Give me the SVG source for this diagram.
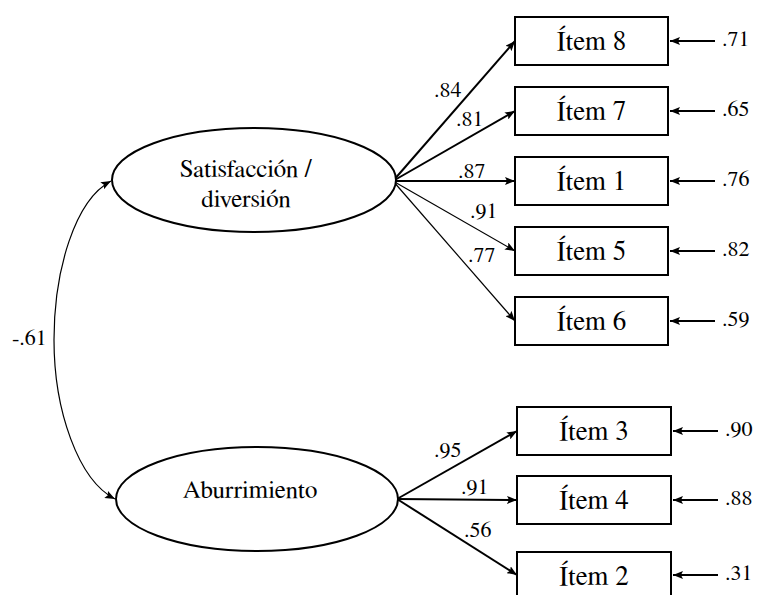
<svg xmlns="http://www.w3.org/2000/svg" width="760" height="595" viewBox="0 0 760 595">
<style>
  text { font-family: "Nimbus Roman", "FreeSerif", "Times", serif; fill: #000; }
  .lat { font-size: 25px; text-anchor: middle; }
  .item { font-size: 27px; text-anchor: middle; }
  .val { font-size: 22px; }
  .node { fill: #fff; stroke: #000; stroke-width: 2; }
  .thick { fill: none; stroke: #000; stroke-width: 2; }
  .thin { fill: none; stroke: #000; stroke-width: 1.2; }
</style>
<defs>
  <marker id="ah" viewBox="0 0 10 8" refX="10" refY="4" markerWidth="10" markerHeight="8" markerUnits="userSpaceOnUse" orient="auto-start-reverse">
    <path d="M0,0 L10,4 L0,8 L2,4 z" fill="#000"/>
  </marker>
</defs>
<rect width="760" height="595" fill="#fff"/>

<g id="connectors">
  <path class="thin" d="M111,181 C75,200 54,270 54,340 C54,410 78,480 115,499" marker-start="url(#ah)" marker-end="url(#ah)"/>
  <line class="thick" x1="393" y1="181" x2="515" y2="41" marker-end="url(#ah)"/>
  <line class="thick" x1="393" y1="181" x2="515" y2="111" marker-end="url(#ah)"/>
  <line class="thick" x1="393" y1="181" x2="515" y2="181" marker-end="url(#ah)"/>
  <line class="thin" x1="393" y1="181" x2="515" y2="251" marker-end="url(#ah)"/>
  <line class="thin" x1="393" y1="181" x2="515" y2="321" marker-end="url(#ah)"/>
  <line class="thick" x1="397" y1="499" x2="517" y2="431" marker-end="url(#ah)"/>
  <line class="thick" x1="397" y1="499" x2="517" y2="500" marker-end="url(#ah)"/>
  <line class="thick" x1="397" y1="499" x2="517" y2="575" marker-end="url(#ah)"/>
  <line class="thick" x1="715" y1="41" x2="670" y2="41" marker-end="url(#ah)"/>
  <line class="thick" x1="715" y1="111" x2="670" y2="111" marker-end="url(#ah)"/>
  <line class="thick" x1="715" y1="181" x2="670" y2="181" marker-end="url(#ah)"/>
  <line class="thick" x1="715" y1="251" x2="670" y2="251" marker-end="url(#ah)"/>
  <line class="thick" x1="715" y1="321" x2="670" y2="321" marker-end="url(#ah)"/>
  <line class="thick" x1="718" y1="431" x2="673" y2="431" marker-end="url(#ah)"/>
  <line class="thick" x1="718" y1="500" x2="673" y2="500" marker-end="url(#ah)"/>
  <line class="thick" x1="718" y1="575" x2="673" y2="575" marker-end="url(#ah)"/>
  <text class="val" x="12" y="345">-.61</text>
  <text class="val" x="434" y="97">.84</text>
  <text class="val" x="456" y="126">.81</text>
  <text class="val" x="458" y="178">.87</text>
  <text class="val" x="470" y="218">.91</text>
  <text class="val" x="468" y="262">.77</text>
  <text class="val" x="434" y="457">.95</text>
  <text class="val" x="461" y="494">.91</text>
  <text class="val" x="464" y="537">.56</text>
</g>

<g id="satisfaccion">
  <ellipse class="node" cx="254" cy="180" rx="142" ry="52"/>
  <text class="lat" x="246" y="177">Satisfacción /</text>
  <text class="lat" x="246" y="207">diversión</text>
</g>
<g id="aburrimiento">
  <ellipse class="node" cx="257" cy="499" rx="141" ry="52"/>
  <text class="lat" x="250" y="498">Aburrimiento</text>
</g>

<g id="item8"><rect class="node" x="515" y="17" width="153" height="48"/><text class="item" x="591.5" y="50">Ítem 8</text><text class="val" x="722" y="46">.71</text></g>
<g id="item7"><rect class="node" x="515" y="87" width="153" height="48"/><text class="item" x="591.5" y="120">Ítem 7</text><text class="val" x="722" y="116">.65</text></g>
<g id="item1"><rect class="node" x="515" y="157" width="153" height="48"/><text class="item" x="591.5" y="190">Ítem 1</text><text class="val" x="722" y="186">.76</text></g>
<g id="item5"><rect class="node" x="515" y="227" width="153" height="48"/><text class="item" x="591.5" y="260">Ítem 5</text><text class="val" x="722" y="256">.82</text></g>
<g id="item6"><rect class="node" x="515" y="297" width="153" height="48"/><text class="item" x="591.5" y="330">Ítem 6</text><text class="val" x="722" y="326">.59</text></g>
<g id="item3"><rect class="node" x="517" y="407" width="154" height="48"/><text class="item" x="594" y="440">Ítem 3</text><text class="val" x="725" y="436">.90</text></g>
<g id="item4"><rect class="node" x="517" y="476" width="154" height="48"/><text class="item" x="594" y="509">Ítem 4</text><text class="val" x="725" y="505">.88</text></g>
<g id="item2"><rect class="node" x="517" y="552" width="154" height="50"/><text class="item" x="594" y="585">Ítem 2</text><text class="val" x="725" y="580">.31</text></g>
</svg>
